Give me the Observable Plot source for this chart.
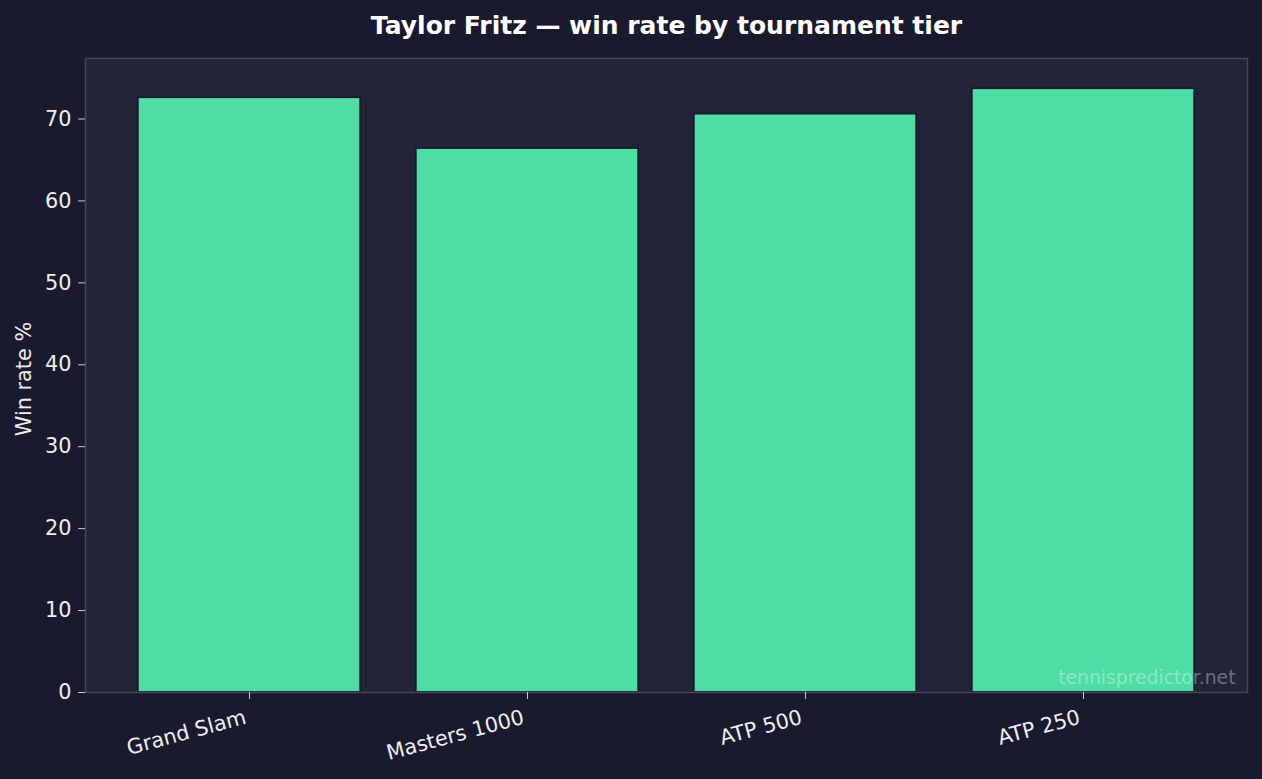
<!DOCTYPE html>
<html>
<head>
<meta charset="utf-8">
<script src="https://cdn.jsdelivr.net/npm/d3@7"></script>
<script src="https://cdn.jsdelivr.net/npm/@observablehq/plot@0.6"></script>
<style>
  html, body { margin: 0; padding: 0; background: #1a1a2e; }
  #chart { width: 1262px; height: 779px; }
</style>
</head>
<body>
<div id="chart"></div>
<script>
const tiers = ["Grand Slam", "Masters 1000", "ATP 500", "ATP 250"];
const winRates = [72.6, 66.4, 70.6, 73.7];
const yTicks = [0, 10, 20, 30, 40, 50, 60, 70];
const titleText = "Taylor Fritz — win rate by tournament tier";
const yLabel = "Win rate %";
const watermark = "tennispredictor.net";

const data = tiers.map((t, i) => ({ tier: t, rate: winRates[i] }));

const font = "DejaVu Sans";
const chart = Plot.plot({
  width: 1262,
  height: 779,
  marginLeft: 85,
  marginRight: 15,
  marginTop: 58,
  marginBottom: 87,
  style: { background: "#1a1a2e", fontFamily: font, color: "#eeeeee" },
  x: { type: "band", domain: tiers, paddingInner: 0.2, paddingOuter: 0.19, round: false, label: null },
  y: { domain: [0, 77.385], label: null },
  marks: [
    Plot.frame({ fill: "#232438" }),
    Plot.barY(data, { x: "tier", y: "rate", fill: "#4edda5", stroke: "#1a1a2e", strokeWidth: 1.8 }),
    Plot.frame({ stroke: "#464652", strokeWidth: 1.5 }),
    Plot.axisY({ ticks: yTicks, tickSize: 7, tickPadding: 7, fontSize: 20.8, stroke: "#cccccc", fill: "#eeeeee", label: null }),
    Plot.axisX({ tickSize: 7, tickFormat: () => "", stroke: "#cccccc", label: null }),
    Plot.text(tiers, { x: d => d, frameAnchor: "bottom", dx: -6, dy: 16.5, rotate: -15, textAnchor: "end", lineAnchor: "top", fontSize: 20.8, fill: "#eeeeee" }),
    Plot.text([yLabel], { frameAnchor: "left", dx: -55, dy: 3.5, rotate: -90, textAnchor: "middle", lineAnchor: "bottom", fontSize: 20.8, fill: "#eeeeee" }),
    Plot.text([titleText], { frameAnchor: "top", dy: -25, lineAnchor: "bottom", fontSize: 25, fontWeight: "bold", fill: "#ffffff" }),
    Plot.text([watermark], { frameAnchor: "bottom-right", dx: -12, dy: -9, textAnchor: "end", lineAnchor: "bottom", fontSize: 18.75, fill: "#ffffff", fillOpacity: 0.35 })
  ]
});
document.getElementById("chart").appendChild(chart);
</script>
</body>
</html>
